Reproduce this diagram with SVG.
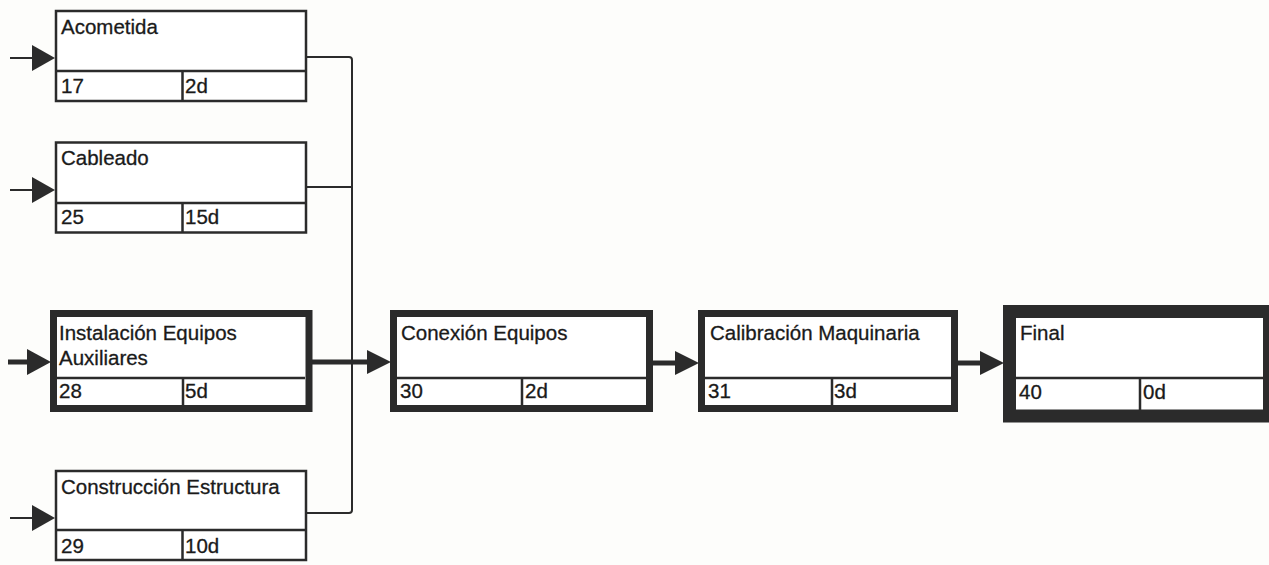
<svg xmlns="http://www.w3.org/2000/svg" width="1269" height="565" viewBox="0 0 1269 565">
<style>
.bg{fill:#fdfdfb}
.box{fill:#ffffff;stroke:#2b2b2b;stroke-width:2.5}
.crit{fill:#ffffff;stroke:#2b2b2b;stroke-width:7}
.fin{fill:#ffffff;stroke:#2b2b2b;stroke-width:13}
.div{stroke:#2b2b2b;stroke-width:2.5;fill:none}
.t{font-family:"Liberation Sans",Arial,sans-serif;font-size:20.5px;fill:#1a1a1a;stroke:#1a1a1a;stroke-width:0.3}
.thin{stroke:#2b2b2b;stroke-width:2;fill:none}
.thick{stroke:#2b2b2b;stroke-width:5;fill:none}
.head{fill:#2b2b2b}
</style>
<rect class="bg" x="0" y="0" width="1269" height="565"/>
<g id="connectors">
  <path class="thin" d="M307 57 H349 Q352 57 352 60 V510 Q352 513 349 513 H307"/>
  <path class="thin" d="M307 187 H352"/>
  <line class="thin" x1="10" y1="58" x2="36" y2="58"/>
  <polygon class="head" points="32,45 55,58 32,71"/>
  <line class="thin" x1="10" y1="190" x2="36" y2="190"/>
  <polygon class="head" points="32,177 55,190 32,203"/>
  <line class="thin" x1="10" y1="518" x2="36" y2="518"/>
  <polygon class="head" points="32,505 55,518 32,531"/>
  <line class="thick" x1="8" y1="362" x2="32" y2="362"/>
  <polygon class="head" points="27,349 51,362 27,375"/>
  <line class="thick" x1="312" y1="362" x2="372" y2="362"/>
  <polygon class="head" points="367,350 391,362 367,374"/>
  <line class="thick" x1="653" y1="363" x2="680" y2="363"/>
  <polygon class="head" points="675,351 699,363 675,375"/>
  <line class="thick" x1="958" y1="363" x2="985" y2="363"/>
  <polygon class="head" points="980,351 1004,363 980,375"/>
</g>
<g id="acometida">
  <rect class="box" x="56" y="11" width="250" height="90"/>
  <path class="div" d="M56 71 H306 M182.5 71 V101"/>
  <text class="t" x="61" y="34">Acometida</text>
  <text class="t" x="61" y="93">17</text>
  <text class="t" x="185" y="93">2d</text>
</g>
<g id="cableado">
  <rect class="box" x="56" y="142.5" width="250" height="90"/>
  <path class="div" d="M56 203 H306 M182.5 203 V232.5"/>
  <text class="t" x="61" y="165">Cableado</text>
  <text class="t" x="61" y="224">25</text>
  <text class="t" x="185" y="224">15d</text>
</g>
<g id="instalacion">
  <rect class="crit" x="53.5" y="313.5" width="255.5" height="95"/>
  <path class="div" d="M57 378 H305 M183 378 V405"/>
  <text class="t" x="59" y="340">Instalación Equipos</text>
  <text class="t" x="59" y="365">Auxiliares</text>
  <text class="t" x="59" y="398">28</text>
  <text class="t" x="185" y="398">5d</text>
</g>
<g id="construccion">
  <rect class="box" x="56" y="471" width="250" height="89"/>
  <path class="div" d="M56 530 H306 M182.5 530 V560"/>
  <text class="t" x="61" y="494">Construcción Estructura</text>
  <text class="t" x="61" y="553">29</text>
  <text class="t" x="185" y="553">10d</text>
</g>
<g id="conexion">
  <rect class="crit" x="393.5" y="313.5" width="256" height="95"/>
  <path class="div" d="M397 378 H646 M522 378 V405"/>
  <text class="t" x="401" y="340">Conexión Equipos</text>
  <text class="t" x="400" y="398">30</text>
  <text class="t" x="525" y="398">2d</text>
</g>
<g id="calibracion">
  <rect class="crit" x="701.5" y="313.5" width="253" height="95"/>
  <path class="div" d="M705 378 H951 M832 378 V405"/>
  <text class="t" x="710" y="340">Calibración Maquinaria</text>
  <text class="t" x="708" y="398">31</text>
  <text class="t" x="834" y="398">3d</text>
</g>
<g id="final">
  <rect class="fin" x="1009.5" y="311.5" width="260" height="104.5"/>
  <path class="div" d="M1016 378 H1263 M1140 378 V410"/>
  <text class="t" x="1020" y="340">Final</text>
  <text class="t" x="1019" y="399">40</text>
  <text class="t" x="1143" y="399">0d</text>
</g>
</svg>
